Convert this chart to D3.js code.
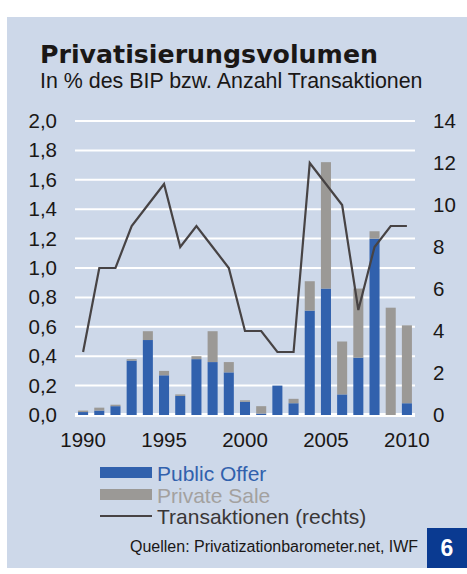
<!DOCTYPE html>
<html>
<head>
<meta charset="utf-8">
<script src="https://cdn.jsdelivr.net/npm/d3@7"></script>
<style>
  body { margin: 0; background: #fff; }
  text { font-family: "Liberation Sans", Arial, sans-serif; }
</style>
</head>
<body>
<div id="chart"></div>
<script>
// data
var years = d3.range(1990, 2011);
var publicOffer = [0.02, 0.03, 0.06, 0.37, 0.51, 0.27, 0.13, 0.38, 0.36, 0.29, 0.09, 0.01, 0.20, 0.08, 0.71, 0.86, 0.14, 0.39, 1.20, 0.00, 0.08];
var privateSale = [0.01, 0.02, 0.01, 0.01, 0.06, 0.03, 0.01, 0.02, 0.21, 0.07, 0.01, 0.05, 0.00, 0.03, 0.20, 0.86, 0.36, 0.47, 0.05, 0.73, 0.53];
var transaktionen = [3, 7, 7, 9, 10, 11, 8, 9, 8, 7, 4, 4, 3, 3, 12, 11, 10, 5, 8, 9, 9];
var leftTicks = [0, 0.2, 0.4, 0.6, 0.8, 1.0, 1.2, 1.4, 1.6, 1.8, 2.0];
var rightTicks = [0, 2, 4, 6, 8, 10, 12, 14];
var xTickYears = [1990, 1995, 2000, 2005, 2010];

var svgWidth = 467;
var svgHeight = 574;

var blue = "#3161ad";
var grey = "#9b9996";
var lineCol = "#474344";
var panelCol = "#cdd8e9";
var tickSize = "20.5px";

var svg = d3.select("#chart")
  .append("svg")
  .attr("width", svgWidth)
  .attr("height", svgHeight);

// panel
svg.append("rect")
  .attr("x", 7).attr("y", 17)
  .attr("width", 460).attr("height", 551)
  .attr("fill", panelCol);

// titles
svg.append("text")
  .attr("x", 40).attr("y", 63)
  .attr("textLength", 338)
  .attr("lengthAdjust", "spacingAndGlyphs")
  .style("font-family", "'DejaVu Sans', sans-serif")
  .style("font-weight", "bold")
  .style("font-size", "24px")
  .attr("fill", "#1a1716")
  .text("Privatisierungsvolumen");

svg.append("text")
  .attr("x", 40).attr("y", 88)
  .style("font-size", "21.4px")
  .attr("fill", "#1a1716")
  .text("In % des BIP bzw. Anzahl Transaktionen");

// scales
var x = d3.scaleBand()
  .domain(years)
  .range([75, 415])
  .paddingInner(0.38)
  .paddingOuter(0.19);

var y = d3.scaleLinear().domain([0, 2]).range([415, 121]);
var y2 = d3.scaleLinear().domain([0, 14]).range([415, 121]);

// gridlines
svg.append("g")
  .selectAll("line")
  .data(leftTicks)
  .enter()
  .append("line")
  .attr("x1", 75).attr("x2", 415)
  .attr("y1", d => y(d)).attr("y2", d => y(d))
  .attr("stroke", "#fff")
  .attr("stroke-width", d => d === 0 ? 4 : 2);

// left axis
var leftAxis = d3.axisLeft(y)
  .tickValues(leftTicks)
  .tickSize(0)
  .tickPadding(0)
  .tickFormat(d => d3.format(".1f")(d).replace(".", ","));

svg.append("g")
  .attr("transform", "translate(57,0)")
  .call(leftAxis)
  .call(g => g.select(".domain").remove())
  .selectAll("text")
  .style("font-family", "'Liberation Sans', Arial, sans-serif")
  .style("font-size", tickSize)
  .attr("fill", "#1a1716");

// right axis
var rightAxis = d3.axisRight(y2)
  .tickValues(rightTicks)
  .tickSize(0)
  .tickPadding(0);

svg.append("g")
  .attr("transform", "translate(433,0)")
  .call(rightAxis)
  .call(g => g.select(".domain").remove())
  .selectAll("text")
  .style("font-family", "'Liberation Sans', Arial, sans-serif")
  .style("font-size", tickSize)
  .attr("fill", "#1a1716");

// bottom axis
var bottomAxis = d3.axisBottom(x)
  .tickValues(xTickYears)
  .tickSize(0)
  .tickPadding(0);

svg.append("g")
  .attr("transform", "translate(0,432)")
  .call(bottomAxis)
  .call(g => g.select(".domain").remove())
  .selectAll("text")
  .style("font-family", "'Liberation Sans', Arial, sans-serif")
  .style("font-size", tickSize)
  .attr("fill", "#1a1716");

// stacked bars
var barData = years.map((yr, i) => ({ year: yr, pub: publicOffer[i], priv: privateSale[i] }));

var bars = svg.append("g");

bars.selectAll(".pub")
  .data(barData)
  .enter()
  .append("rect")
  .attr("class", "pub")
  .attr("x", d => x(d.year))
  .attr("width", x.bandwidth())
  .attr("y", d => y(d.pub))
  .attr("height", d => y(0) - y(d.pub))
  .attr("fill", blue);

bars.selectAll(".priv")
  .data(barData)
  .enter()
  .append("rect")
  .attr("class", "priv")
  .attr("x", d => x(d.year))
  .attr("width", x.bandwidth())
  .attr("y", d => y(d.pub + d.priv))
  .attr("height", d => y(d.pub) - y(d.pub + d.priv))
  .attr("fill", grey);

// line (right axis)
var line = d3.line()
  .x((d, i) => x(years[i]) + x.bandwidth() / 2)
  .y(d => y2(d));

svg.append("path")
  .datum(transaktionen)
  .attr("d", line)
  .attr("fill", "none")
  .attr("stroke", lineCol)
  .attr("stroke-width", 2.2)
  .attr("stroke-linejoin", "miter");

// legend
var legend = svg.append("g");
var legendSize = "21px";

legend.append("rect")
  .attr("x", 100).attr("y", 467).attr("width", 52).attr("height", 11)
  .attr("fill", blue);
legend.append("text")
  .attr("x", 157).attr("y", 481)
  .style("font-size", legendSize)
  .attr("fill", blue)
  .text("Public Offer");

legend.append("rect")
  .attr("x", 100).attr("y", 489).attr("width", 52).attr("height", 11)
  .attr("fill", grey);
legend.append("text")
  .attr("x", 157).attr("y", 503)
  .style("font-size", legendSize)
  .attr("fill", "#a3a19f")
  .text("Private Sale");

legend.append("line")
  .attr("x1", 100).attr("x2", 152)
  .attr("y1", 516).attr("y2", 516)
  .attr("stroke", lineCol)
  .attr("stroke-width", 2);
legend.append("text")
  .attr("x", 157).attr("y", 524)
  .style("font-size", legendSize)
  .attr("fill", "#3a3636")
  .text("Transaktionen (rechts)");

// source + page number
svg.append("text")
  .attr("x", 130).attr("y", 552)
  .style("font-size", "16px")
  .attr("fill", "#1a1716")
  .text("Quellen: Privatizationbarometer.net, IWF");

svg.append("rect")
  .attr("x", 427).attr("y", 528)
  .attr("width", 40).attr("height", 40)
  .attr("fill", "#0a3a91");

svg.append("text")
  .attr("x", 447).attr("y", 556)
  .attr("text-anchor", "middle")
  .style("font-size", "23px")
  .style("font-weight", "bold")
  .attr("fill", "#fff")
  .text("6");
</script>
</body>
</html>
